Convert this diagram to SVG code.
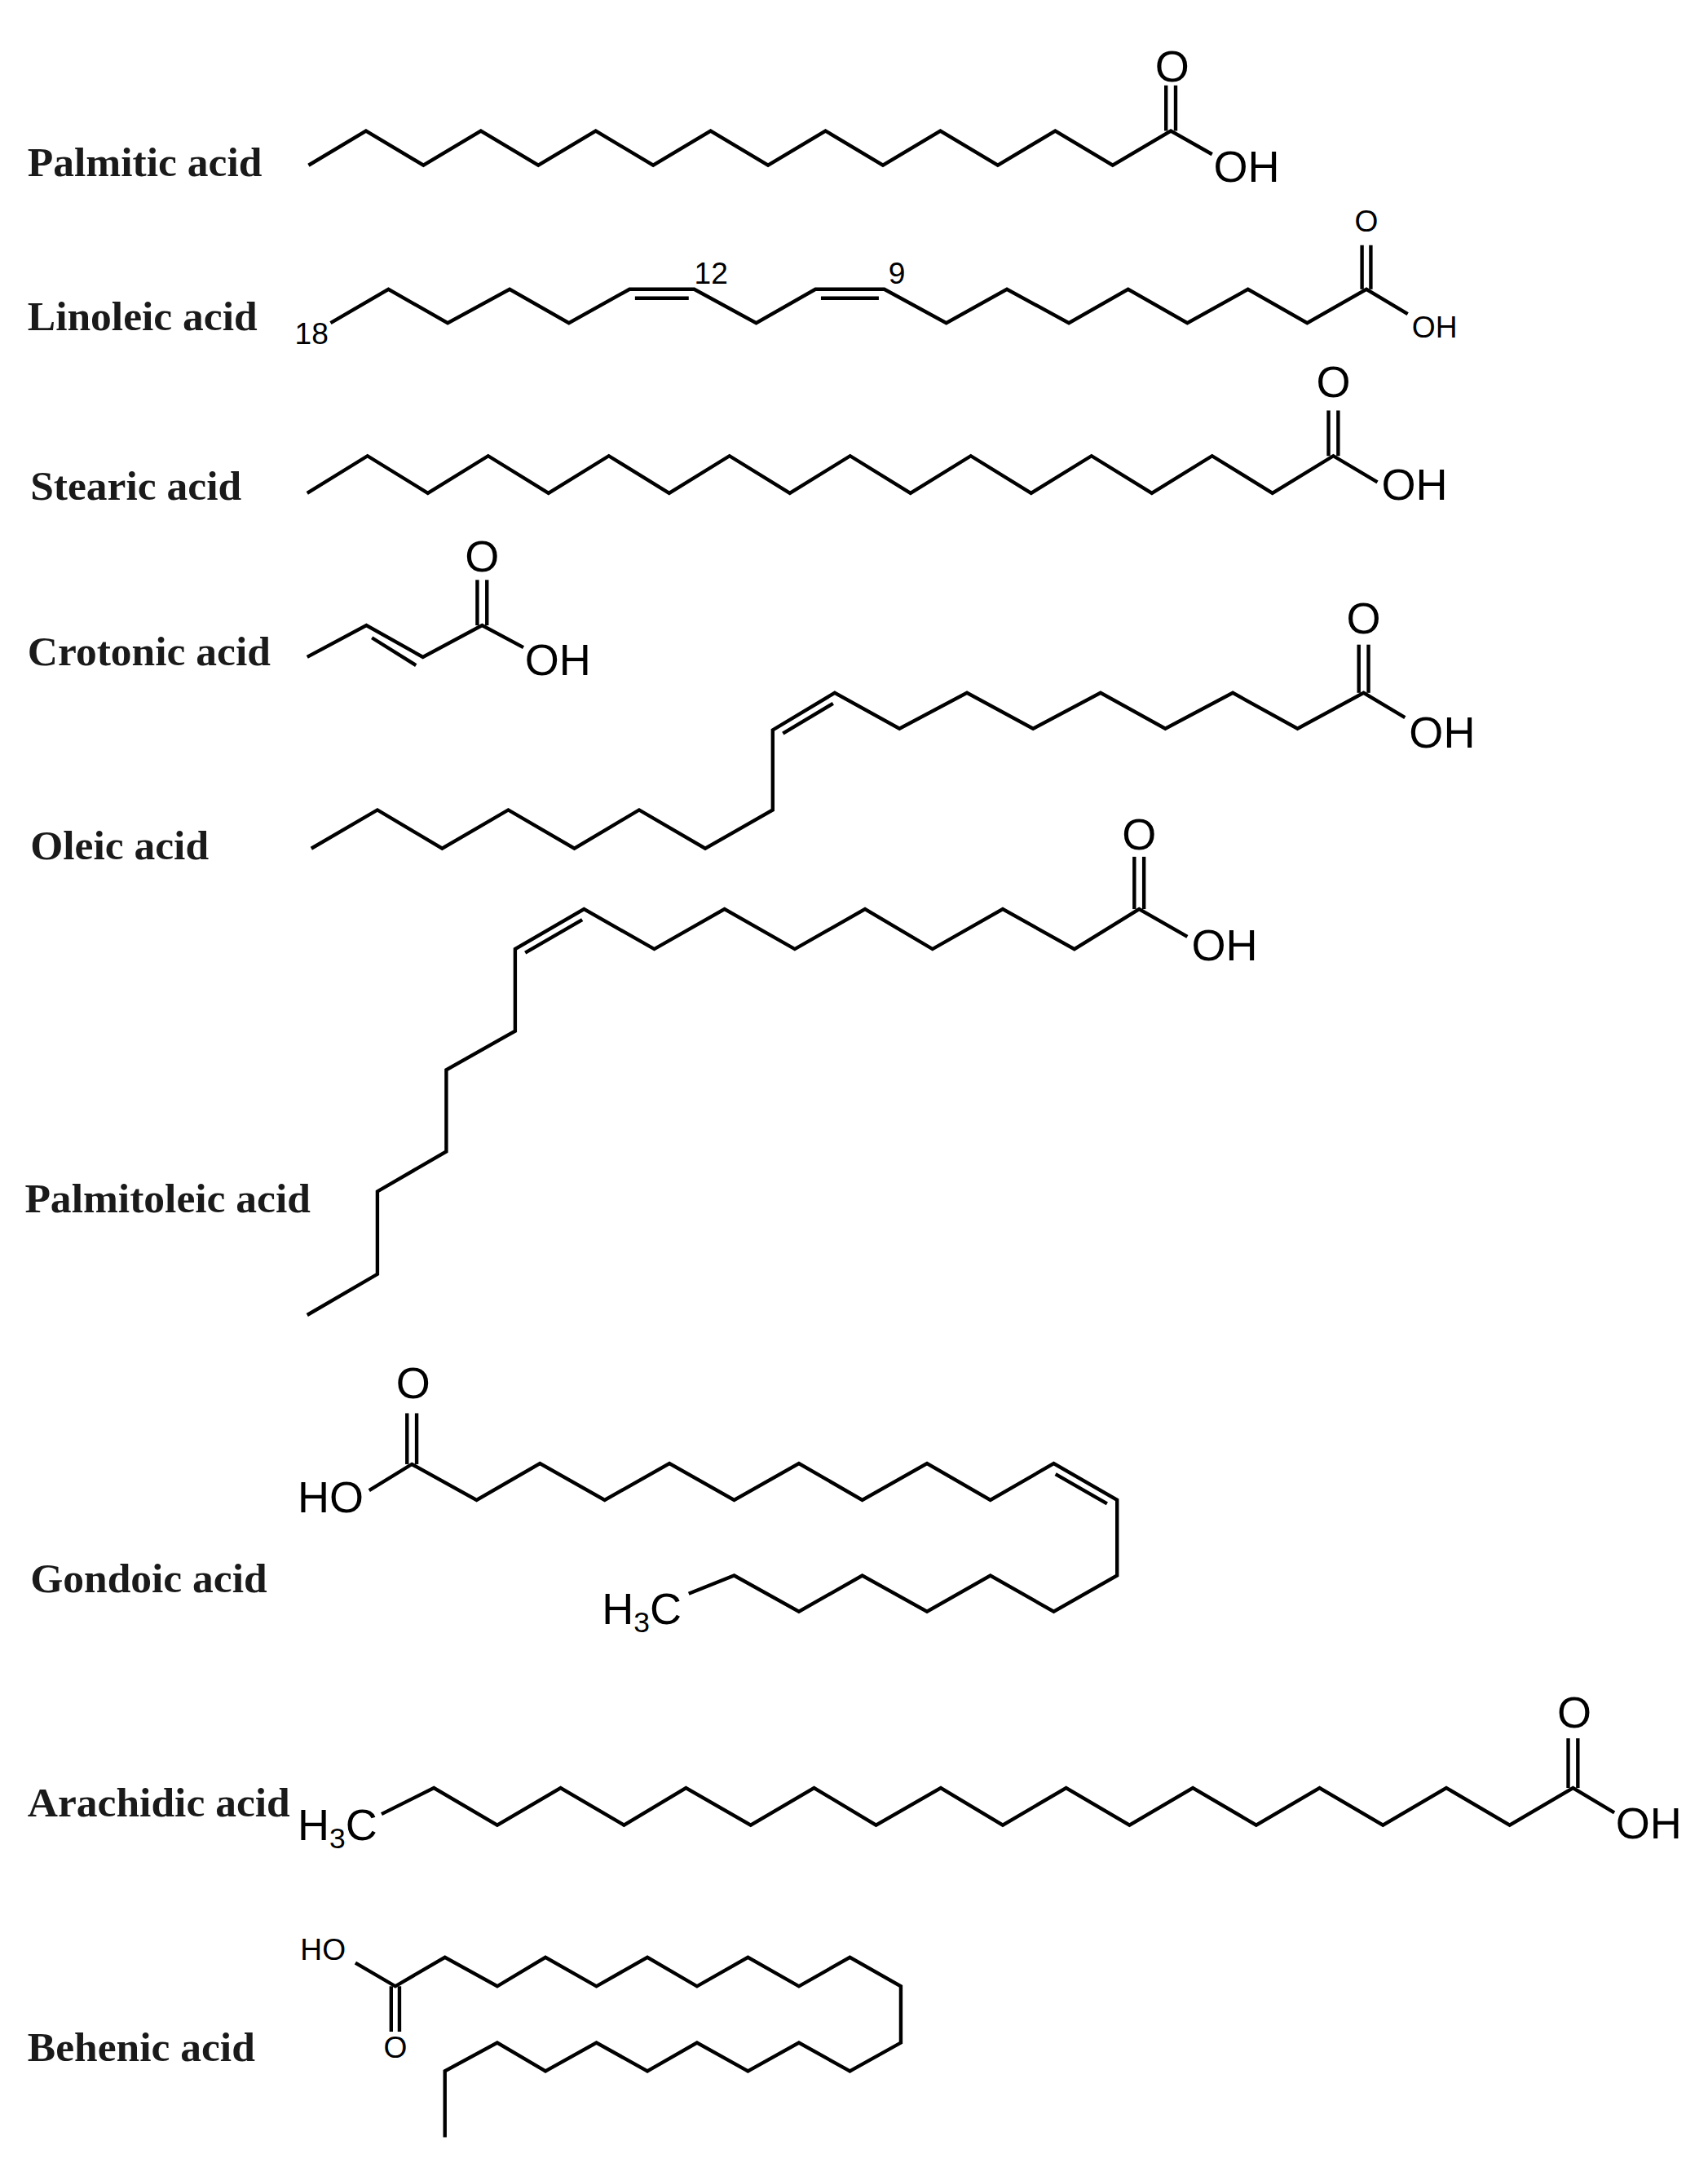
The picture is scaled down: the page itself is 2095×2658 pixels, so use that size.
<svg xmlns="http://www.w3.org/2000/svg" width="2095" height="2658" viewBox="0 0 2095 2658">
<style>
.b{fill:none;stroke:#000;stroke-width:2.6;stroke-linejoin:miter;stroke-linecap:butt}
.n{font-family:"Liberation Serif",serif;font-weight:bold;font-size:30.5px;fill:#1a1a1a}
.a{font-family:"Liberation Sans",Arial,sans-serif;font-size:32px;fill:#000}
.s{font-family:"Liberation Sans",Arial,sans-serif;font-size:22px;fill:#000}
</style>
<rect width="2095" height="2658" fill="#fff"/>
<g transform="scale(1.68952)">
<g id="palmitic">
<text class="n" x="20" y="128">Palmitic acid</text>
<polyline class="b" points="224,120 265.7,95 307.4,120 349.1,95 390.8,120 432.5,95 474.2,120 515.9,95 557.6,120 599.3,95 641,120 682.7,95 724.4,120 766.1,95 807.8,120 850,95 880,112"/>
<line class="b" x1="846.5" y1="95" x2="846.5" y2="62"/><line class="b" x1="853.5" y1="95" x2="853.5" y2="62"/>
<text class="a" x="851" y="59" text-anchor="middle">O</text>
<text class="a" x="881" y="132">OH</text>
</g>
<g id="linoleic">
<text class="n" x="20" y="240">Linoleic acid</text>
<text class="s" x="214" y="250" font-size="17">18</text>
<polyline class="b" points="240,234.5 282,210 325,234.5 370,210 413,234.5 457,210 504,210 549,234.5 592,210 642,210 687,234.5 731,210 776,234.5 819,210 862,234.5 906,210 949,234.5 992,210 1022,228"/>
<line class="b" x1="461" y1="216.5" x2="500" y2="216.5"/>
<line class="b" x1="596" y1="216.5" x2="638" y2="216.5"/>
<text class="s" x="504" y="206" font-size="17">12</text>
<text class="s" x="645" y="206" font-size="17">9</text>
<line class="b" x1="988.8" y1="210" x2="988.8" y2="178"/><line class="b" x1="995.2" y1="210" x2="995.2" y2="178"/>
<text class="s" x="992" y="168" text-anchor="middle">O</text>
<text class="s" x="1025" y="245">OH</text>
</g>
<g id="stearic">
<text class="n" x="22" y="363">Stearic acid</text>
<polyline class="b" points="223,358 266.8,331 310.6,358 354.4,331 398.2,358 442,331 485.8,358 529.6,331 573.4,358 617.2,331 661,358 704.8,331 748.6,358 792.4,331 836.2,358 880,331 923.8,358 968,331 1000,350"/>
<line class="b" x1="964.5" y1="331" x2="964.5" y2="298"/><line class="b" x1="971.5" y1="331" x2="971.5" y2="298"/>
<text class="a" x="968" y="288" text-anchor="middle">O</text>
<text class="a" x="1003" y="363">OH</text>
</g>
<g id="crotonic">
<text class="n" x="20" y="483">Crotonic acid</text>
<polyline class="b" points="223,477 266,454 307,477 350,454 380,470"/>
<line class="b" x1="270" y1="463" x2="302" y2="483"/>
<line class="b" x1="346.5" y1="454" x2="346.5" y2="421"/><line class="b" x1="353.5" y1="454" x2="353.5" y2="421"/>
<text class="a" x="350" y="415" text-anchor="middle">O</text>
<text class="a" x="381" y="490">OH</text>
</g>
<g id="oleic">
<text class="n" x="22" y="624">Oleic acid</text>
<polyline class="b" points="226,616 274,588 321,616 369,588 417,616 464,588 512,616 561,588 561,530 606,503 653,529 702,503 750,529 799,503 846,529 895,503 942,529 990,503 1020,521"/>
<line class="b" x1="568.4" y1="532.5" x2="604.8" y2="510.7"/>
<line class="b" x1="986.5" y1="503" x2="986.5" y2="468"/><line class="b" x1="993.5" y1="503" x2="993.5" y2="468"/>
<text class="a" x="990" y="460" text-anchor="middle">O</text>
<text class="a" x="1023" y="543">OH</text>
</g>
<g id="palmitoleic">
<text class="n" x="18" y="880">Palmitoleic acid</text>
<polyline class="b" points="223,954.7 274,925 274,865 324,836 324,776.7 374,748.5 374,689 424,660 475,689 526,660 577,689 628,660 677,689 728,660 780,689 827,660 862,680"/>
<line class="b" x1="381.3" y1="691.7" x2="422.7" y2="667.7"/>
<line class="b" x1="823.5" y1="660" x2="823.5" y2="622"/><line class="b" x1="830.5" y1="660" x2="830.5" y2="622"/>
<text class="a" x="827" y="617" text-anchor="middle">O</text>
<text class="a" x="865" y="697">OH</text>
</g>
<g id="gondoic">
<text class="n" x="22" y="1156">Gondoic acid</text>
<polyline class="b" points="268,1082 299,1063 346,1089 392,1062.5 439,1089 486,1062.5 533,1089 580,1062.5 626,1089 673,1062.5 719,1089 765,1062.5 811,1089 811,1143.8 765,1170 719,1143.8 673,1170 626,1143.8 580,1170 533,1143.8 500,1157"/>
<line class="b" x1="766.3" y1="1070.2" x2="803.7" y2="1091.7"/>
<line class="b" x1="295.5" y1="1063" x2="295.5" y2="1026"/><line class="b" x1="302.5" y1="1063" x2="302.5" y2="1026"/>
<text class="a" x="300" y="1015" text-anchor="middle">O</text>
<text class="a" x="216" y="1098">HO</text>
<text class="a" x="437" y="1179">H<tspan font-size="21" dy="6">3</tspan><tspan dy="-6">C</tspan></text>
</g>
<g id="arachidic">
<text class="n" x="20" y="1319">Arachidic acid</text>
<polyline class="b" points="277,1317 315,1298 361,1325 407,1298 453,1325 498,1298 545,1325 591,1298 636,1325 683,1298 728,1325 774,1298 820,1325 866,1298 912,1325 958,1298 1004,1325 1050,1298 1096,1325 1142,1298 1172,1316"/>
<line class="b" x1="1138.5" y1="1298" x2="1138.5" y2="1262"/><line class="b" x1="1145.5" y1="1298" x2="1145.5" y2="1262"/>
<text class="a" x="1143" y="1254" text-anchor="middle">O</text>
<text class="a" x="1173" y="1335">OH</text>
<text class="a" x="216" y="1336">H<tspan font-size="21" dy="6">3</tspan><tspan dy="-6">C</tspan></text>
</g>
<g id="behenic">
<text class="n" x="20" y="1496">Behenic acid</text>
<polyline class="b" points="258,1425 287,1442 323,1421 361,1442 396,1421 433,1442 470,1421 506,1442 543,1421 580,1442 617,1421 654,1442 654,1483 617,1503.6 580,1483 543,1503.6 506,1483 470,1503.6 433,1483 396,1503.6 361,1483 323,1503.6 323,1551.6"/>
<line class="b" x1="284" y1="1442" x2="284" y2="1475"/><line class="b" x1="290" y1="1442" x2="290" y2="1475"/>
<text class="s" x="287" y="1494" text-anchor="middle">O</text>
<text class="s" x="218" y="1423">HO</text>
</g>
</g>
</svg>
